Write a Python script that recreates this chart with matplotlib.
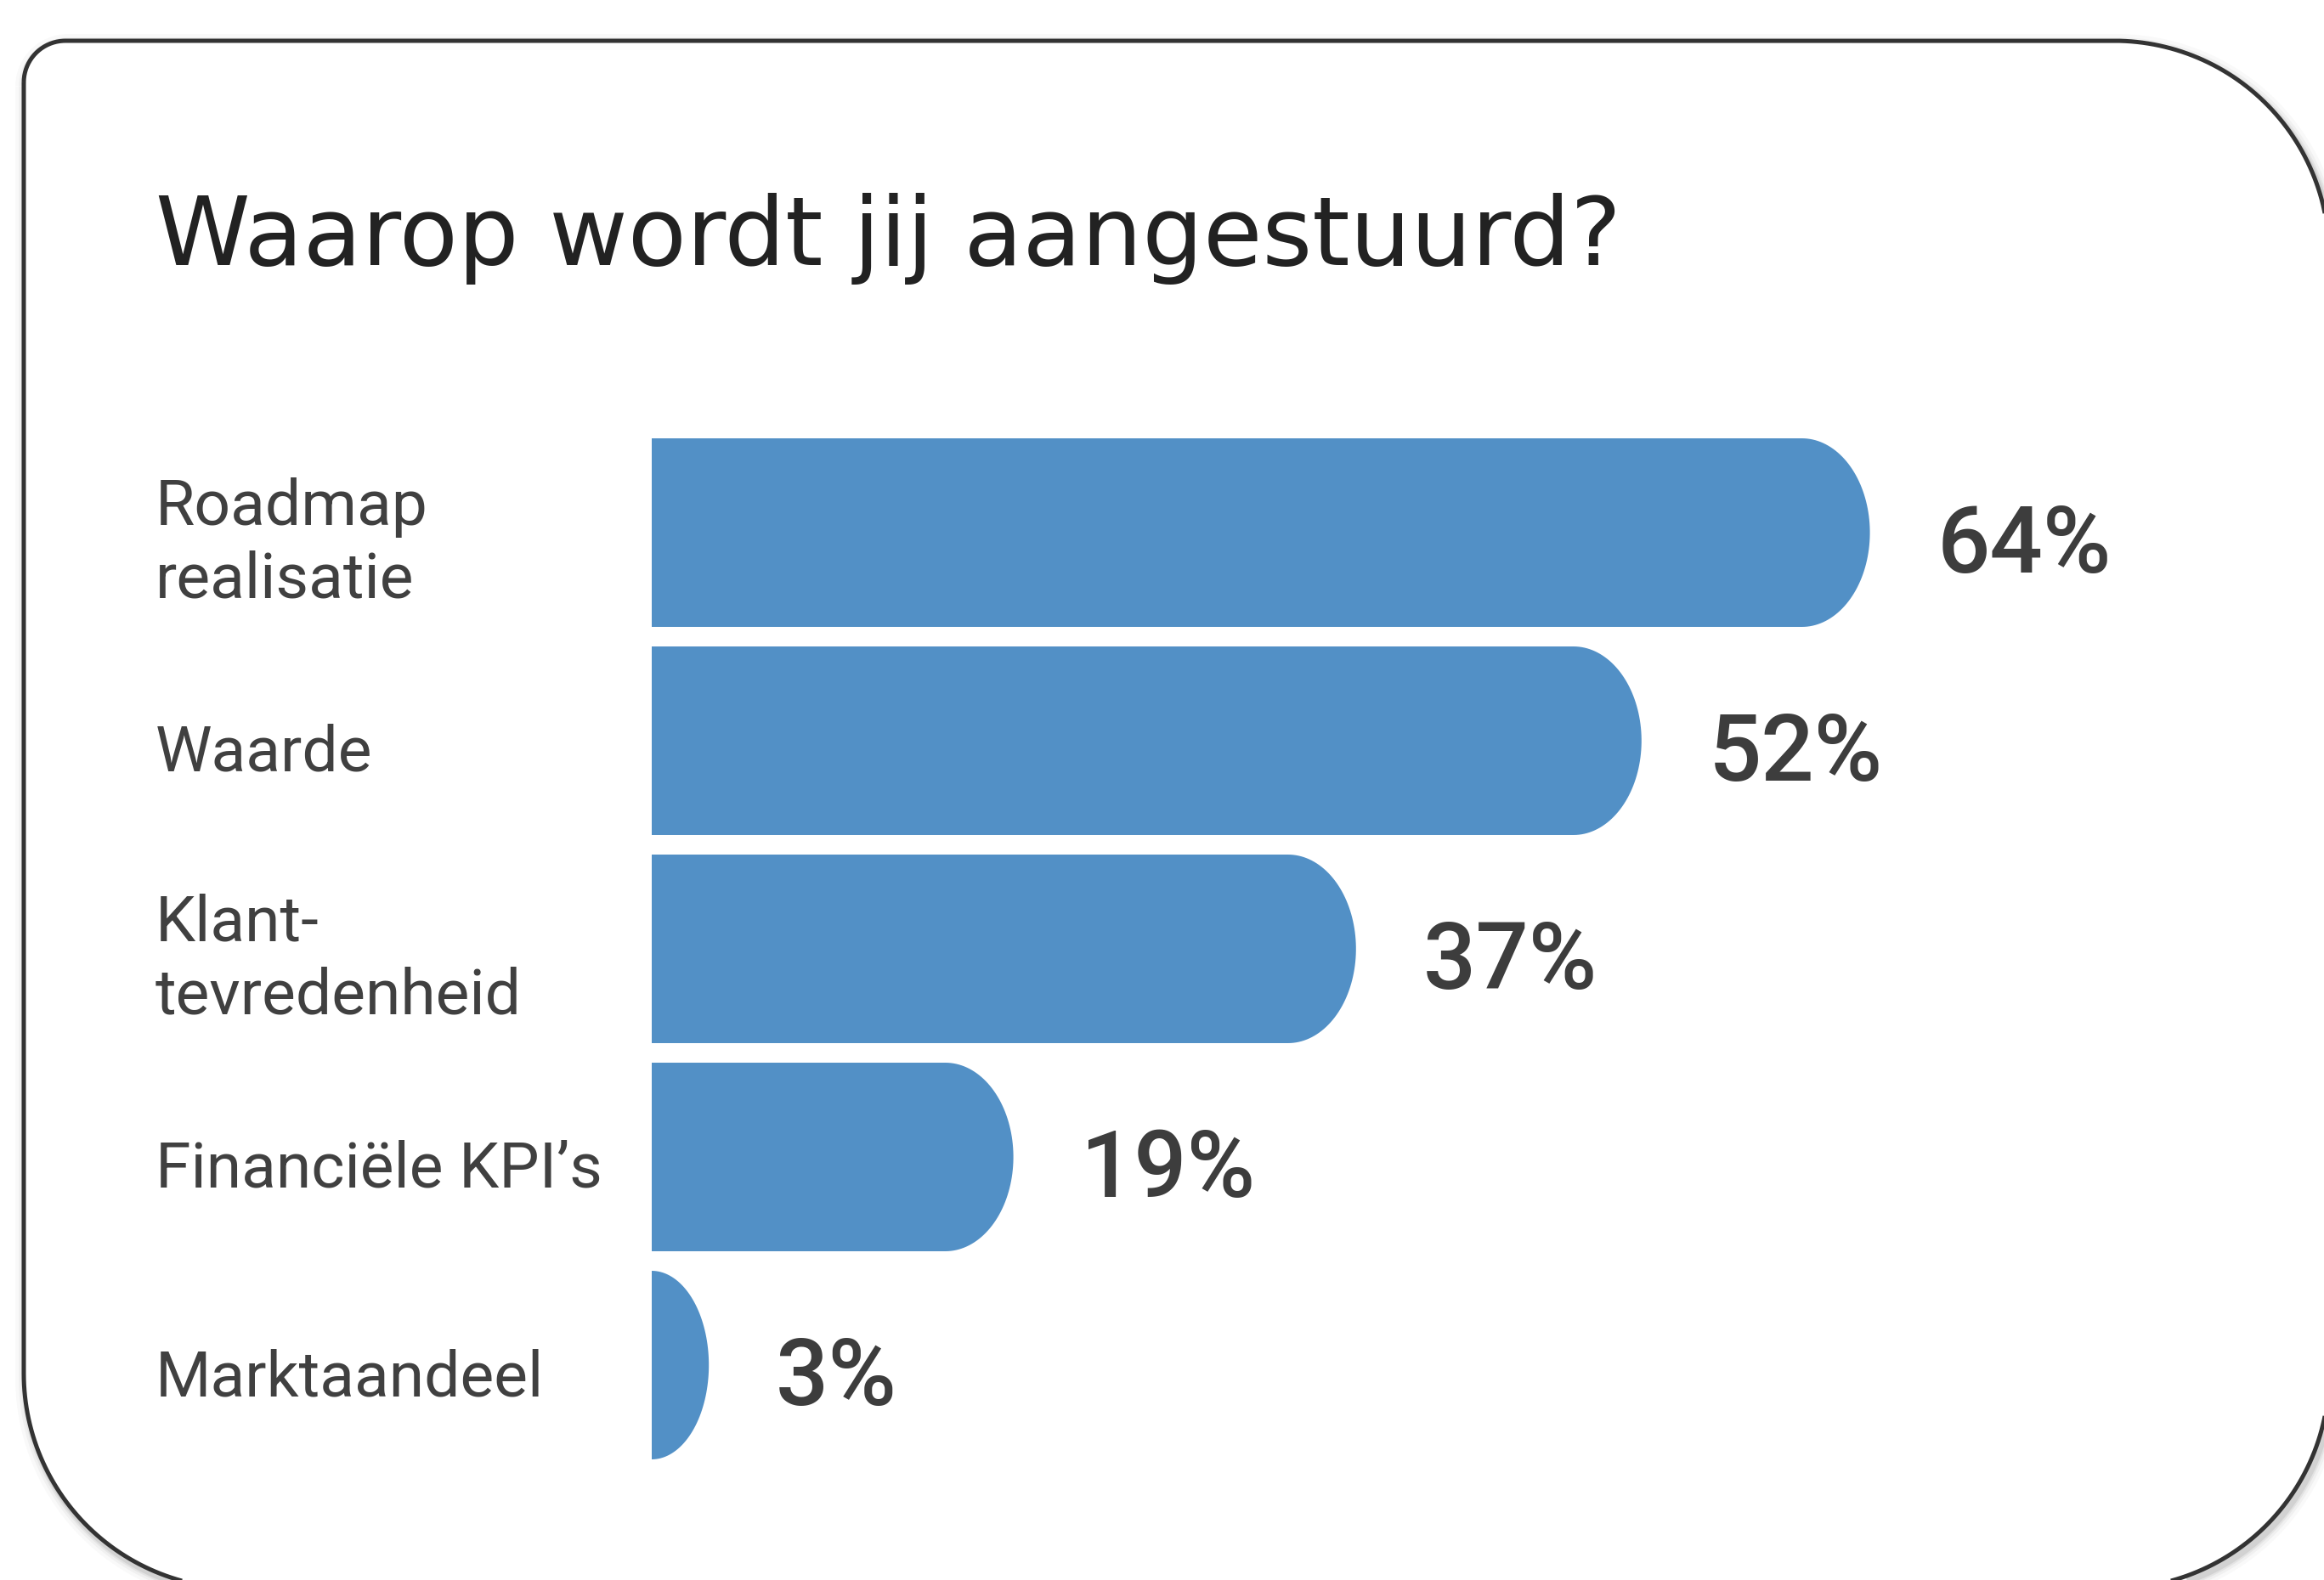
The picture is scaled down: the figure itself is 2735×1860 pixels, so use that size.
import numpy as np
import matplotlib
matplotlib.use("Agg")
import matplotlib.pyplot as plt
from matplotlib.path import Path
from matplotlib.patches import PathPatch
from matplotlib.transforms import Affine2D

# ---------------- data ----------------
title = "Waarop wordt jij aangestuurd?"
categories = ["Roadmap\nrealisatie", "Waarde", "Klant-\ntevredenheid",
              "Financiële KPI’s", "Marktaandeel"]
values = [64, 52, 37, 19, 3]
value_labels = ["64%", "52%", "37%", "19%", "3%"]

# ---------------- layout ----------------
W, H = 2735, 1860
DPI = 100
bar_color = "#5290C6"
text_color = "#404040"

px_per_unit = 22.4          # pixels per percentage point
bar_left_px = 767
first_center_px = 627
pitch_px = 245
bar_h = 0.906
cap_rx = 80 / px_per_unit

fig = plt.figure(figsize=(W / DPI, H / DPI), dpi=DPI)
fig.patch.set_facecolor("white")

# background / frame axes in pixel coordinates
bg = fig.add_axes([0, 0, 1, 1])
bg.set_xlim(0, W)
bg.set_ylim(H, 0)
bg.axis("off")


def rounded_box(x0, y0, x1, y1, r_tl, r_tr, r_br, r_bl, n=60):
    pts = []
    t = np.linspace(np.pi, 1.5 * np.pi, n)
    pts += list(zip(x0 + r_tl + r_tl * np.cos(t), y0 + r_tl + r_tl * np.sin(t)))
    t = np.linspace(1.5 * np.pi, 2 * np.pi, n)
    pts += list(zip(x1 - r_tr + r_tr * np.cos(t), y0 + r_tr + r_tr * np.sin(t)))
    t = np.linspace(0, 0.5 * np.pi, n)
    pts += list(zip(x1 - r_br + r_br * np.cos(t), y1 - r_br + r_br * np.sin(t)))
    t = np.linspace(0.5 * np.pi, np.pi, n)
    pts += list(zip(x0 + r_bl + r_bl * np.cos(t), y1 - r_bl + r_bl * np.sin(t)))
    pts.append(pts[0])
    return Path(np.array(pts))


box = rounded_box(28, 48, 2741, 1870, 49, 253, 253, 253)
for lw, a in [(26, 0.025), (18, 0.035), (12, 0.05), (8, 0.07)]:
    sh = PathPatch(box.transformed(Affine2D().translate(3, 5)),
                   fill=False, edgecolor="black", lw=lw * 72 / DPI, alpha=a,
                   transform=bg.transData)
    bg.add_patch(sh)
bg.add_patch(PathPatch(box, facecolor="white", edgecolor="none"))
bg.add_patch(PathPatch(box, fill=False, edgecolor="#333333", lw=5 * 72 / DPI,
                       joinstyle="round"))

# chart axes: data units (percent, category index)
ax = fig.add_axes([0, 0, 1, 1])
ax.patch.set_alpha(0)
ax.set_xlim(-bar_left_px / px_per_unit, (W - bar_left_px) / px_per_unit)
ax.set_ylim((H - first_center_px) / pitch_px, -first_center_px / pitch_px)
ax.axis("off")


def bar_path(i, v):
    rx = min(cap_rx, v)
    xf = v - rx
    top, bot = i - bar_h / 2, i + bar_h / 2
    t = np.linspace(-np.pi / 2, np.pi / 2, 80)
    xs = [0, xf] + list(xf + rx * np.cos(t)) + [0, 0]
    ys = [top, top] + list(i + (bar_h / 2) * np.sin(t)) + [bot, top]
    return Path(np.column_stack([xs, ys]))


label_x = (183 - bar_left_px) / px_per_unit
val_off = 79 / px_per_unit
for i, (cat, v, vl) in enumerate(zip(categories, values, value_labels)):
    ax.add_patch(PathPatch(bar_path(i, v), facecolor=bar_color, edgecolor="none"))
    nlines = cat.count("\n") + 1
    base_off = (36 if nlines == 1 else 76) / pitch_px
    ax.text(label_x, i + base_off, cat, fontsize=54, family="Roboto",
            color=text_color, ha="left", va="baseline", linespacing=1.25)
    ax.text(v + val_off, i + 47 / pitch_px, vl, fontsize=79, family="Roboto",
            weight="medium", color="#3d3d3d", ha="left", va="baseline")

# title, sized so its width matches the reference line length
target_w = 1727
t_obj = fig.text(183 / W, 1 - 312 / H, title, fontsize=78, family="DejaVu Sans",
                 color="#222222", ha="left", va="baseline")
renderer = fig.canvas.get_renderer()
w_now = t_obj.get_window_extent(renderer).width
t_obj.set_fontsize(78 * target_w / w_now)

fig.savefig("out.png", dpi=DPI)
